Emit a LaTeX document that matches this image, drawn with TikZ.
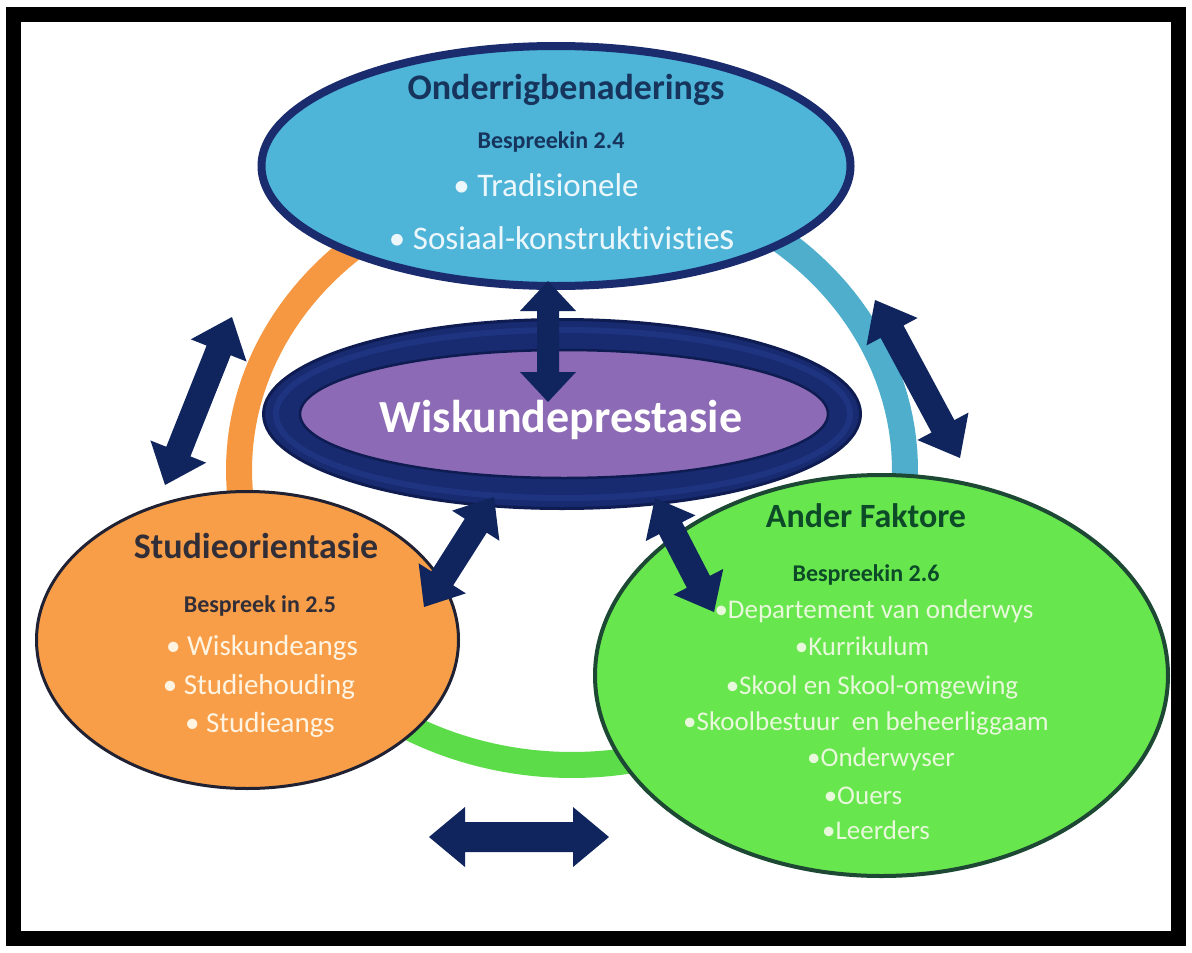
\documentclass[tikz,border=0pt]{standalone}
\usepackage{fontspec}
\setmainfont{Carlito}[Ligatures={NoCommon}]
\usetikzlibrary{shapes.geometric,calc}

\definecolor{arrownavy}{RGB}{16,37,94}
\definecolor{topfill}{RGB}{78,180,216}
\definecolor{topedge}{RGB}{26,44,110}
\definecolor{topdark}{RGB}{22,52,92}
\definecolor{topwhite}{RGB}{236,247,251}
\definecolor{ringblue}{RGB}{78,174,204}
\definecolor{ringorange}{RGB}{246,152,66}
\definecolor{ringgreen}{RGB}{92,220,72}
\definecolor{orangefill}{RGB}{248,158,72}
\definecolor{orangeedge}{RGB}{32,34,52}
\definecolor{orangedark}{RGB}{50,46,56}
\definecolor{orangewhite}{RGB}{255,244,226}
\definecolor{greenfill}{RGB}{104,230,78}
\definecolor{greenedge}{RGB}{28,72,52}
\definecolor{greendark}{RGB}{12,74,40}
\definecolor{greenwhite}{RGB}{232,248,218}
\definecolor{perfouter}{RGB}{24,42,112}
\definecolor{perfband}{RGB}{30,52,128}
\definecolor{perfdark}{RGB}{14,28,82}
\definecolor{perfpurple}{RGB}{140,106,182}

% double-headed block arrow between two named tips
% #1,#2 tips, #3 head length, #4 half head width, #5 half shaft width
\newcommand{\dblarrow}[5]{%
  \path ($(#1)!#3!(#2)$) coordinate (#1-h)
        ($(#2)!#3!(#1)$) coordinate (#2-h);
  \fill[arrownavy]
    (#1) -- ($(#1-h)!#4!90:(#2)$) -- ($(#1-h)!#5!90:(#2)$)
    -- ($(#2-h)!#5!-90:(#1)$) -- ($(#2-h)!#4!-90:(#1)$)
    -- (#2) -- ($(#2-h)!#4!90:(#1)$) -- ($(#2-h)!#5!90:(#1)$)
    -- ($(#1-h)!#5!-90:(#2)$) -- ($(#1-h)!#4!-90:(#2)$) -- cycle;
}

\begin{document}
\begin{tikzpicture}[x=1pt,y=-1pt,
  ringseg/.style={line width=26pt},
  bubble/.style={ellipse, inner sep=0pt},
  ttl/.style={anchor=base, font=\bfseries\fontsize{36}{40}\selectfont},
  sub/.style={anchor=base, font=\bfseries\fontsize{24}{28}\selectfont},
  item/.style={anchor=base, font=\fontsize{29}{32}\selectfont},
]
\useasboundingbox (0,0) rectangle (1192,953);
\fill[white] (0,0) rectangle (1192,953);
\draw[line width=15pt] (13.5,14.5) rectangle (1178.5,938.5);

% colored ring behind the bubbles
\draw[ringseg, ringgreen] plot[domain=72:122, samples=40] ({572+333*cos(\x)},{470+295*sin(\x)});
\draw[ringseg, ringorange] plot[domain=120:272, samples=80] ({572+333*cos(\x)},{470+295*sin(\x)});
\draw[ringseg, ringblue] plot[domain=-92:74, samples=80] ({572+333*cos(\x)},{470+295*sin(\x)});

% teaching approaches
\node[bubble, fill=topfill, draw=topedge, line width=8pt,
      minimum width=589pt, minimum height=240pt] (teach) at (556,166) {};
\node[ttl, text=topdark] (teachT) at (566,99) {Onderrigbenaderings};
\node[sub, text=topdark] (teachS) at (551,148) {Bespreekin 2.4};
\node[item, text=topwhite, font=\fontsize{33}{36}\selectfont] (teachA) at (546,196) {• Tradisionele};
\node[item, text=topwhite, font=\fontsize{33}{36}\selectfont] (teachB) at (562,249) {• Sosiaal-konstruktivistie{\fontsize{39}{39}\selectfont s}};

% mathematics performance
\node[bubble, fill=perfouter, draw=perfdark, line width=3pt,
      minimum width=597pt, minimum height=189pt] (perf) at (562,414) {};
\node[bubble, draw=perfband, line width=6pt,
      minimum width=574pt, minimum height=168pt] (perfring) at (563,414) {};
\node[bubble, fill=perfpurple, draw=perfdark, line width=2.5pt,
      minimum width=528pt, minimum height=128pt] (perfin) at (564,414) {};
\node[anchor=base, text=white, font=\bfseries\fontsize{46}{50}\selectfont] (perfT) at (561,432) {Wiskundeprestasie};

% study orientation
\node[bubble, fill=orangefill, draw=orangeedge, line width=3pt,
      minimum width=422pt, minimum height=297pt] (study) at (247.5,640) {};
\node[ttl, text=orangedark] (studyT) at (256,558) {Studieorientasie};
\node[sub, text=orangedark] (studyS) at (260,612) {Bespreek in 2.5};
\node[item, text=orangewhite] (studyA) at (262,655) {• Wiskundeangs};
\node[item, text=orangewhite] (studyB) at (259,694) {• Studiehouding};
\node[item, text=orangewhite] (studyC) at (260,732) {• Studieangs};

% other factors
\node[bubble, fill=greenfill, draw=greenedge, line width=4pt,
      minimum width=573pt, minimum height=401pt] (other) at (881.5,675.5) {};
\node[ttl, text=greendark, font=\bfseries\fontsize{34}{38}\selectfont] (otherT) at (866,527) {Ander Faktore};
\node[sub, text=greendark] (otherS) at (866,581) {Bespreekin 2.6};
\begin{scope}[every node/.append style={item, text=greenwhite, font=\fontsize{27}{30}\selectfont}]
\node (oA) at (874,618) {•Departement van onderwys};
\node (oB) at (862,655) {•Kurrikulum};
\node (oC) at (872,694) {•Skool en Skool-omgewing};
\node (oD) at (866,730) {•Skoolbestuur\ \ en beheerliggaam};
\node (oE) at (881,766) {•Onderwyser};
\node (oF) at (863,804) {•Ouers};
\node (oG) at (876,839) {•Leerders};
\end{scope}

% arrow tips
\coordinate (vT) at (548,281);
\coordinate (vB) at (548,402);
\coordinate (lT) at (232,317);
\coordinate (lB) at (165,485);
\coordinate (rT) at (875,300);
\coordinate (rB) at (960,458);
\coordinate (clT) at (494,497);
\coordinate (clB) at (424,607);
\coordinate (crT) at (655,498);
\coordinate (crB) at (714,612);
\coordinate (hL) at (429,837);
\coordinate (hR) at (609,837);

\dblarrow{vT}{vB}{30pt}{28pt}{11pt}
\dblarrow{lT}{lB}{36pt}{30pt}{13pt}
\dblarrow{rT}{rB}{36pt}{29pt}{13pt}
\dblarrow{clT}{clB}{34pt}{28pt}{13pt}
\dblarrow{crT}{crB}{34pt}{28pt}{13pt}
\dblarrow{hL}{hR}{36pt}{30pt}{15pt}
\end{tikzpicture}
\end{document}
